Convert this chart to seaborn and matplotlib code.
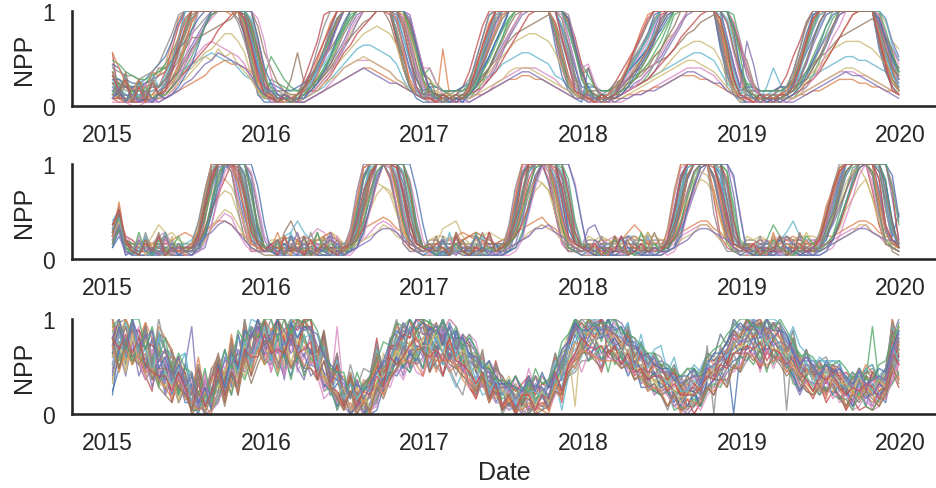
import matplotlib
matplotlib.use("Agg")
import matplotlib.pyplot as plt
import pandas as pd
import seaborn as sns

# Normalised NPP per pixel, half-monthly steps, one string of 24 levels per year.
# Level letters: a = 0.00, b = 0.04, ... z = 1.00 (spaces only group the seasons).
YEARS = [2015, 2016, 2017, 2018, 2019]
STEPS_PER_YEAR = 24
LEVELS = "abcdefghijklmnopqrstuvwxyz"
YEAR_TICKS = [2015, 2016, 2017, 2018, 2019, 2020]

# ---- panel 1: broad summer plateau -------------------------------------
p1_2015 = [
    "fdcbcbcd glsz zzzzzzzz wpjd", "jgfeffgi lrxz zzzzzzzz uojf",
    "ecbbbbcc dfjp uzzzzzzz zuld", "ocdcbccd ehlr wzzzzzzz xqke",
    "dcbbcbbc ehkn qtwzzzzz yrkf", "hgfdeghk kmpt xzzzzzzx tnhe",
    "cbbaabbb cdgj moqrqpon lhed", "ggeeddef hknq tvxzzzzz vphd",
    "dccbcccd fiks zzzzzzzz zzqg", "ffdcddee ghjk lmnonmmk ihfd",
    "lkhgghjl nrwz zzzzzzzz sldb", "cbbbbbcc cdef ghiklmll kjhe",
    "ihgfggij losw zzzzzzzz zuoi", "eddccddf jpvz zzzzzzzz tkec",
    "dddccbcc dfhl psvyzzzz zwpg", "gffeeeff hjmp sstuvwxz ytlf",
    "bbbbbbbc dfin szzzzzzz zwqh", "kjiihijl ptyz zzzzzzzw rlfc",
    "ccccccde fgij kmoprttr oiec", "eeddeeff hlrx zzzzzzzz zxrk",
    "hhfffghi jmpr uxzzzzzz zsle", "dcbcccdd egkq wzzzzzzz zzsj",
    "mljihhij kmou zzzzzzzz wnfc", "cccbbccd dfhj lnpruwyz zvpi",
    "egbfcgbe fkrx zzzzzzzz xrkf", "jcgbfbhd fhjm prvyzzzz zzvo",
    "cfbdbgbc cehl osvxzzzz zzxr", "lehcgbhf gjot xzzzzzzz uldc",
    "dgbcfbdc degh jlnmpnol jhec", "hdibgcjf imsz zzzzzzzz zsle",
    "cebfbcbd cdfi lqvzzzzz zzsk", "okgehdji jnsx zzzzzzyz vogd",
    "dgbecfcd dfhk nrvyzzzz zwoh", "iehbfbgd ejpv zzzzzzzz xqid",
    "cfbdbecb cdeg hjlmonml kifd", "gdjbhcgf hlqu yzzzzzzz ytnf",
]
p1_2016 = [
    "bbcbc ehjm qw zzzzzzzz wqkfd", "dcbcd fikn sx zzzzzzzz unhec",
    "cbbbc degj mq uyzzzzzz zzsld", "dcccd fhkn rv zzzzzzzy sngdc",
    "ddccc degi lo rvyzzzzz zxqjf", "dcdho ghkn ps vzzzzzzw qkfdc",
    "cbbbb bcde gi klmmmlkj hgedc", "ccbbc dfim rw zzzzzzzz zunhd",
    "cccdd efhi km qtwzzzzz zzupi", "eddcc cdef hj lnpqqpon lheec",
    "bbbbb cfjo uz zzzzzzzz skfcb", "ccbbb bcde fg hijkkjih gfedc",
    "nkhfe efhk nr vzzzzzzz zzwpi", "cbbcd hmry zz zzzzzzzz rkfdc",
    "cccbc cdfh jm pswzzzzz zzyrk", "eeedd efgi kn qsuwxzzz zxrlg",
    "bbbbc dgjm qv zzzzzzzz zxrkf", "fedcd fhkp vz zzzzzzzz uogdc",
    "dddcc defh jl nprtuvut qkgdc", "ccbbc egjl or uxzzzzzz zzvph",
    "gfeef gilo rv zzzzzzzz ysmhe", "cbccc dfin sw zzzzzzzz zytnh",
    "hgfee fhko sx zzzzzzzz tlfdc", "ccccc deeg il oqtvxzzz zzwqk",
    "ebdcb fhkn qv zzzzzzzz xqjed", "kgecd efhj lp twzzzzzz zzvpj",
    "idcbc cdfh jm quxzzzzz zzyrk", "cbcbd gjpv zz zzzzzzzz ulfdc",
    "dcbcb cdeg hi klmnmlkj hgedc", "ecdbc dgko tx zzzzzzzz zsmfd",
    "gdcbc cegj ns wzzzzzzz zzxqj", "dcbcd ehmr wz zzzzzzzz xpgdc",
    "fcdbc dfhk nr uxzzzzzz zzuoh", "cbdcb fjnr vz zzzzzzzz zvnfc",
    "ecdcb bcde fg hijkjihg gfedc", "dbcbd fhlp tx zzzzzzzz zwpid",
]
p1_2017 = [
    "ccbcbc eiou zzzzzzzzz wpiec", "cbpdbc fjpv zzzzzzzzz tmgdc",
    "fdccbc cegk oswzzzzzz zzxpj", "ccdccd fjnt yzzzzzzzz skfdc",
    "ecccdd efhk nqtwzzzzz zzsld", "bbbbcc eins xzzzzzzzz zunhe",
    "cbbbbb bcde ghijkkkji hfedc", "dccbcc dgkp uyzzzzzzz zuoie",
    "hfeddd efgi lpswzzzzz zzwqk", "dddcde fghi jlmnoonml ihfed",
    "bbbbbc gmsy zzzzzzzzz qiecb", "cbbbbc cdde fghhiihhg fedcc",
    "kgedcd dfik osxzzzzzz zzyrl", "ccccdf jpvz zzzzzzzzz vnhdc",
    "eddccc cdfh kosvyzzzz zzvph", "dddeee fgik mprtuvwxy wrlgd",
    "bbbbbc dhlq vzzzzzzzz zysle", "cccdef hlpu zzzzzzzzz tmgdc",
    "eeddcc dfhj lnprsttsr okgdc", "ccbbcc dgjn rvzzzzzzz zzuoi",
    "ffeeef ghkn ruzzzzzzz zvqkf", "cccccc ehlq uyzzzzzzz zzwqj",
    "gfeeee gjnr wzzzzzzzz uofdc", "ddcccc defh jmpsvyzzz zzxsl",
    "dbcbcb ehmr wzzzzzzzz zsmfd", "hdcbcd dfhk orvyzzzzz zzwpi",
    "kgdcbc cdfi lptwzzzzz zzyrk", "cbcbdc gmsy zzzzzzzzz tlfdc",
    "dcbcbc cdef ghjkkkjih gfedc", "ecbdbc eiot yzzzzzzzz zvpid",
    "fcdbcb dfjn rvzzzzzzz zzxqj", "cbcdbc fkqw zzzzzzzzz woiec",
    "ecdcbc dgjm quxzzzzzz zzuoh", "cbdcbc ekqv zzzzzzzzz zsled",
    "dcbcbc bcde fghijjihg fedcc", "edbcdc ehlp txzzzzzzz zxqic",
]
p1_2018 = [
    "bccd fhjlnp uz zzzzzzzz rkfc", "cbcc dfhjmp tx zzzzzzzz vohd",
    "fdcc cdefgi lp tyzzzzzz zzsk", "ccdd eghjkn ry zzzzzzzz unhd",
    "ddcc cdefgh jm psvzzzzz zwpi", "bbcc egjmps xz zzzzzzzz qjec",
    "cbbb bbcdde fg hijkkkji gedc", "cccd fhknps wz zzzzzzzz xpic",
    "edcc efghjl np stwzzzzz zzvo", "dddd eeffgh ij klmnoonm jgec",
    "kfcb dgjmpt yz zzzzzzzz pidb", "cbbb ccddee ff ghiiihhg fedc",
    "ifdc defhjl or vzzzzzzz zzyr", "cccd gjmpsw zz zzzzzzzz tlec",
    "eddc cdeghj ln qtwyzzzz zzvp", "eeee fghijk lm nprtuwxy vqkf",
    "bbbc dfilor vz zzzzzzzz zwoh", "ccde ghknqt wz zzzzzzzz sldc",
    "eddc cdefgh ij lnpqrrqp mheb", "ccbc dfhknq tw zzzzzzzz zxrk",
    "ffee fhjlnp su xzzzzzzz zsle", "cccc dfhkmp sv yzzzzzzz zzti",
    "gfee fhjmps wz zzzzzzzz xpgd", "dccc ddefgh jl npsuwyzz zzwq",
    "dbcb dfhjlo sx zzzzzzzz zslf", "kfdc cdfhik np svzzzzzz zzvp",
    "lgdc cdefhj lo rtwzzzzz zzwr", "cbcc ehkosw zz zzzzzzzz ufdc",
    "dcbc bcdefg hi jklmmlkj hfdc", "ecbc dgjmps wz zzzzzzzz yrjd",
    "fcdc cdfilo rv yzzzzzzz zzuk", "cbcd fhlpuy zz zzzzzzzz wmfc",
    "ecdc deghkn qt wzzzzzzz zzvn", "cbdc dgkptx zz zzzzzzzz xqhd",
    "dcbc bccdde ef ghijjihg gedc", "edbc cegjmp sw zzzzzzzz zwpj",
]
p1_2019 = [
    "bbcbcdd hnty zzzzzzzzz tnjg", "cbbbccd fkqw zzzzzzzzz wpkh",
    "gdcccbc cefi mqvzzzzzz xrmi", "cccccde hlrx zzzzzzzzz rlhf",
    "dccccdd efhk nquyzzzzz wrmj", "bbbbcdf jpvz zzzzzzzzz qkge",
    "cbbbbbb cdef ghijjjiih gfed", "cccdddd gkpu zzzzzzzzz vpkh",
    "jfdcccd efgi kmpsvyzzz zwrp", "ddddeee fghi jklmnnmml kjih",
    "bbbbbcc gmsy zzzzzzzzz pjfd", "cbbbbbc cdde efghhhggf feed",
    "kfdcccc dfil ptxzzzzzz xrmk", "ccccdfi nrwz zzzzzzzzz skfd",
    "ieddcdd egjm psvyzzzzz zxrn", "eeeeeff ghjl noqstuvwx vspm",
    "bbbbccd filr wzzzzzzzz wqlh", "cccddef inrw zzzzzzzzz uojf",
    "eddcccd efhj lnpqrrrqp nlji", "cccfkgd fimr vyzzzzzzz zxqm",
    "ffeeeff hkos wzzzzzzzz soje", "cccccdd fkpu yzzzzzzzz uoke",
    "gfeeeef hlqv zzzzzzzzz smhe", "kfdcccc degh jmpsvyzzz ytoj",
    "rldcbcd ehlq uyzzzzzzz wrlh", "mgdcbcd eghk nrvzzzzzz yrnk",
    "kfdcbcc cdfh kosvzzzzz ytpl", "cbcbcdf jpwz zzzzzzzzz qjfd",
    "dcbcbcc cdef ghijkkjih gfed", "ecbcdcd fjpu yzzzzzzzz uoif",
    "fcdbcbc dfim qvyzzzzzz xsnj", "cbcdcde hmsx zzzzzzzzz tmhe",
    "ecdcbcd egjn rvzzzzzzz zuoj", "cbdcbdd fkrx zzzzzzzzz sled",
    "dcbcbcb bcde fghijiihg fedc", "edbcdcd ehmr wzzzzzzzz vpki",
]

# ---- panel 2: short, sharp autumn peak ----------------------------------
p2_2015 = [
    "hmedcdcccdcc cgqzzzzsje dc", "gkfdcdeddcdd dfmvzzzwmf dc",
    "ilfedcdcbccc ccfmuzzzzr hd", "fidccdcdcccc dhszzzxpic cc",
    "jnfeedeeddde eglszzzzuk ed", "eidcbbcbbbbb bdkuzzzzsh cb",
    "gjedddeghedd cdfikmlhec cc", "hkeddcddcddd ehpxzzzytl fd",
    "fhedcdgjhdcc ceinqsrmgd cc", "kneddccdccdd cfozzzzzxo gd",
    "dgcbbbbbcbbb bcgpyzzzwm ec", "hjfeefeeefgh gfhjkkjhgf ed",
    "ghdccccdcccd dgozzzzzzt id", "elgfddddeedd dflvzzzyrj fd",
    "iledcccccccc ccdjrzzzzw nf", "fjeeddeffedd dhnuxzyuni ed",
    "glgeddcdddcd dgrzzzzqid cc", "hkedccdcdcdc ceiovzzzzw md",
    "fjfeeeefghfe ehmrvvtpje dd", "glfddddddeee fjszzzzxpg dc",
    "hmeddcccdddc cdhowzzzzu hd", "eifddeedcccc cfnyzzzvme dc",
    "jkfeecccdccd dgltzzzzsi ed", "gifdccddccdd deinrvzzzr jd",
    "gmdbfcbgcebd cfnwzzzvlf dc", "jlfdbgcdhcec dgnuzzzzsk ec",
    "ehbcgbdbfbcb bcejqxzzzx pg", "hoedbhcecfbd ekszzzxnfd cc",
    "fkccfbecbgcd cdfilnmjgd cc", "ildbcgbdhced dhqyzzzzvm fd",
    "dibcbfbcbdbc bdgmtyzzzz tj", "gpecbfdbgcdb eirzzzzune dc",
    "eidbhcbfcdgc cehpwzzzzr jd", "jnfcbecgbdcd dgowzzzxqh ec",
    "fjcbfcdbgcdc ceghjkjhfd cc", "hmecbfchcbec dhpxzzzzwn fd",
]
p2_2016 = [
    "cddcdccdcccd fmvzzzwoge dc", "ddecdefedccd ejrzzzzrjd cc",
    "cbcdcbccbcbc cehouzzzzs id", "dcdccddcdcdd hpyzzzvnfd cc",
    "eefgfedeefee ehkqwzzzwo gd", "bbhkgbbbbbcb dlvzzzztkd cb",
    "cdeeefgihfed defhjkjhfe dc", "cdcdcdcdcdcd gowzzzzwnf dc",
    "ddeeddccddde dfjnrtsojf dc", "efghkhfeeddd eiqzzzzzsj ed",
    "cbbbbbcbbbbb cgpxzzzzrh cb", "ddeffgfeedde fgijklkihf ed",
    "ccccdcccdcdd fnwzzzzzzq hd", "ddcdeedcdddd dfmuzzzyqh ed",
    "cccccccccccc cdjrzzzzzu kd", "efeddeeffgfe fimsxzyuke dd",
    "dcccdcdccccd hrzzzzyoec cc", "eddcdccdcccd ejpwzzzzxn fd",
    "ffgfeeffghge fimqutrmhe dd", "ddeddddeedde ejszzzzxof dc",
    "cdccdccccddc dhowzzzzuk ed", "dddcdeefghfd dgnxzzzvmf dc",
    "ccddcccdcdcc emvzzzzske dc", "ddcdcccdddcd dfinuzzzzs id",
    "cfbdhcbecgbc flwzzzzvlf dc", "ebgcfbdhcfbc dhnvzzzzrj ed",
    "dbcgbdbecbgb bdgnuzzzzv nf", "cfbecbhcfcbd iszzzzwnec cc",
    "dcgbdfbcgbdc defghjigfe dc", "ecbhcedbgcbd eiqyzzzzxo fd",
    "cbecbgbdcbeb cdhovzzzzz sj", "dhcbfcdbgcdc gpyzzzzrie dc",
    "cebgcdbhcedb dfkrxzzzzu jd", "ebgcdbfcecbd ekswzzzysk ed",
    "dcbgcecbdhcb cdefhiihfe dc", "cfbdcgbcecfc ejqxzzzzwm fd",
]
p2_2017 = [
    "cdcdcccddccd hpxzzzumfd cc", "ddccdeeddccd fkszzzzpic cc",
    "ccbcccbcbccc cdhpwzzzzr hd", "cdcdcddccdcd iqzzzzvmec cc",
    "eeffeeddeeef fhlrwzzzvn fd", "bbbbcbbbbbbb dmwzzzzsjd cb",
    "ddeeffghgfee defgijihfe dc", "cdcdccddcdcd hpxzzzzvme dc",
    "eeijkgedddde egkosusnhe dc", "ddeeddeeddde fjrzzzzzri ed",
    "cbbbcbbbbbbb chqyzzzzqg cb", "deefghgfeeef ghijkljigf ed",
    "cccddccccddd gowzzzzzyp gd", "dddceddccddd egnvzzzxpg ed",
    "cccdcccccccc cekszzzzzt jd", "ffeeefggfeee gjntyzxtjd dd",
    "cdccdcdcccdd isyzzzxnec cc", "ddccdcdccdcd fkqxzzzzwm ed",
    "fggffeefghgf gjnrvusmhe dd", "ddedeeddedde fkszzzzwne dc",
    "cdccdcccdccc eipxzzzzti ed", "ddcdefghgfed ehoyzzzule dc",
    "cddcccddcdcc fnwzzzzrjd cc", "dccdccddcddd egjovzzzzr hd",
    "dbfcebdgcebd gowzzzzumf dc", "cgbdcfbdhcec ejrzzzzzsk ed",
    "bdcgbdcbfbcb bcfmtyzzzz uk", "dcgbcfcebhcd jtzzzzynfc cc",
    "cdcgdbcfecdc defhijihfe dc", "edbhcdcbgcde fjrxzzzzxn fd",
    "cbcbgcbcdbeb cdgnuzzzzz tk", "ecdbhedcfdcd hqzzzzzskf dc",
    "dbfcecbhcdcd egmtyzzzzv ke", "cedbgcbdchcd flvzzzzytl ed",
    "dcfcbdcgdcbc defgiijhge dc", "ecdbhcdbcgce ekryzzzzwn fd",
]
p2_2018 = [
    "cddcdccdcdcc eluzzzzwof dc", "ddccdeedcccd dhpwzzzzsh dc",
    "cbccbccbcccc cdhnuzzzzx md", "dcdcdcdddcdc fnwzzzzqgd cc",
    "ijfeefeeeeff efimrwzzzt ie", "bbbbbbcbbbbb cjszzzzzug cb",
    "ddefgfeeffed deghijjhfe dc", "cdcddcdccdcd flvzzzzzqh dc",
    "edeeddeeeddd dgkpsvurke dc", "ddddefggfeed fkszzzzzxm ed",
    "cbbbbbbcbbbb cgpyzzzzwl db", "eeffeefgfeef ffhijkkihf ed",
    "cccdcdccdccd fnwzzzzzzu kd", "dddeddcddddd dgnvzzzzsk ed",
    "cccccccccccc cdjrxzzzzz re", "ffeeffgffeee fimsxzzwpi ed",
    "ddcccdcdccdc gqyzzzzzpf dc", "edddcdccdcdc eiowzzzzzt hd",
    "gfgfeeffgggf fhmqvxwsle dd", "dededdeedddd ejrzzzzzug dc",
    "cdcdccccdccc dhnvzzzzzq gd", "dcdcdfhjhecd egmwzzzzqh dc",
    "ccdccdcdcccc emvzzzzvne cc", "dcdcccdddccd dfjotyzzzv kd",
    "cfdbcgbcecdc fnwzzzzvng dc", "edcbgcfbdhec ejrzzzzzsj ed",
    "bdcbfbdcbgbc bcfmszzzzz vm", "dcgbcdcfbcdc iszzzzzmfc cc",
    "cdbcgdcbdhec cdfghjjhfe dc", "ecbdcfdbcgcd fkryzzzzxn fd",
    "cbdbcgdcbcbc cdgntyzzzz wl", "decbgcedcfcd hrzzzzzslf dc",
    "dcbcfdcbhcec dfkqwzzzzx of", "cebdcgbcecdc fmvzzzzytm ed",
    "dcecbcgecbdc cdefhiihgf dc", "ebdcgcbecdhd ejpwzzzzyp gd",
]
p2_2019 = [
    "cddcdccdcdc ehmsxzzzzqh ed", "ddcceffedcd fjowzzzzzri ed",
    "cbccbccbccc cdgmsyzzzzu kd", "dcdcdcdddcd glrxzzzzwne dc",
    "eefeefeeeef fgjnsxzzzzs hd", "bbbbbcbbbbb dintzzzzzvj cb",
    "ddeefgfeeff eefghiijhge dc", "cdcddcdccdc fkqwzzzzzsi ed",
    "edeeddeeedd deginqtvqje dc", "ddddefhkgfd efkrzzzzzzn fd",
    "cbbbbbbcbbb chnuzzzzzxp gm", "eeffeefgfee fgghijkkjhg fe",
    "cccfjgdcdcc dglrxzzzzzv id", "dddeddcddde gmtyzzzzsje dc",
    "ccccccccccc cdfjpvzzzzz qf", "ffeeffgffee fhkoswzzxpi fe",
    "ddcccdcdccd ekryzzzzuke dc", "edddcdccdcd dhmszzzzzyn fd",
    "gfgfeeffggg fhlpuxyvqke dd", "dededdeeddd dinvzzzzzri ed",
    "cdcdccccdcc dfkqwzzzzzu kd", "dcdcdeffedc fkrxzzzzxoe dc",
    "ccdccdcdccc glsyzzzzxmf dc", "dcdcccdddcc defjotyzzzz se",
    "cebfcbdcgcd fjpvzzzzzsi ed", "edbcgcdbhdc dgkrwzzzzxq ie",
    "bdcbfbdcbcb bcdglqwzzzz uk", "dcgbcdcfbcd hntzzzzzwme dc",
    "cdbcgdcbdhe cdefghjjhgf ed", "ecbdcgdbcdc dhmswzzzzyr he",
    "cbdbcfdcbcb bcfkpuyzzzz wl", "decbhcedcfc gosyzzzzzqh ed",
    "dcbcfdcbdge cegkpuzzzzz tj", "cebdcgbcecd flsxzzzzzvj fd",
    "dcecbcgecbd cdefghiihgf fe", "ebdcdgbecdc dimsxzzzzzs jd",
]

# ---- panel 3: noisy, winter-high signal ---------------------------------
p3_2015 = [
    "kwnz pvjsg mfn hbje lrhvpw rz", "xrun slqlh hpk adcg oitkvq xs",
    "wpzt sxnuj ohm kcgf glrmsr uw", "umqo pkgtm djl bfgc jeofsk vp",
    "uyqz oumsi rgn xdjb gpkvmx tz", "jpot njmhf dlh acbg jcmfoi nr",
    "zrxs xmuko ijf hclf pmrnux wz", "mtqy nskor mdh bjeh gknqou xu",
    "iwoq ukokh mej bgcj hmjqmu vq", "zvys rymwr kpq gmdk loqusz yx",
    "gmsp rmujn fkd dagb eikgrn uo", "ystw qynxu rlj fpfm phtjxn tw",
    "qmun rlqho mfk cbhc jfnktm xr", "szqy owlvr mhf dkcj nfrkxq zs",
    "lrkt kphnf jdh bdab dkfolp so", "zsxp sxnvu qnl fmfk qjumzo xv",
    "pvrs wlrio hmf jbkc lhpkup wr", "syzv qxnur pjk glfm ngujyq zt",
    "ntlu rmpih kdj cbeg hjgnkr tn", "qtsx qwmvr pki fick mkrowq sz",
    "fsqr smpjn hlf icgb fikmrq uq", "zuzv uyuop pkj gngj pjvmyr vz",
    "qoso snpil jgh bbfc dkfnjo rn", "uyrw wtsqm lph fmfk oirnpv ty",
    "swpz pvmon hlg hbjc flkroq xr", "pyrx pxmrq njh dkcg ogrmpv uz",
    "nxqv ojrmp gkg ecjb dimjpn ur", "rztz qxmzr qkj dngk pgsjzq zw",
    "pzlv nuksl hoh kcgb flpjsp qw", "nvpy prluk imq cdch lfplun sx",
    "qxqz urwmp jnh kdhb nhqmwu zs", "slrn qlmjh eje dbca ldjgpl rn",
    "xzrz zrxpu lqm lfmd jrmwtx uz", "urvq unlkk glh bicg mflirp pv",
    "uzsy suwor kpi lchf jonqpv xt", "umtp nqjmm lhf bgaf kdlhqk pt",
]
p3_2016 = [
    "sxpzruq plfi hbgad hoo rvpxs", "qytwpzt jrfo bghca nfr smqwv",
    "ovlxoun qghc fadbg imk ptmwq", "wzzsztr ltgn cidhh njr yuzrt",
    "psjunqk mhke cadab eil lrmsp", "tvqxrzw krfn djbhg ngl quswx",
    "lrnulpm kegx fcaeh fmj mrnsk", "ztswuyz mujp dkchh okt zrwux",
    "rxnyqun qkjd hacbf dqm rmtnu", "vywzzxu nvip flhik tjr vxwzz",
    "nspkrln mkie hacea bhl knlpm", "qxtwrzw rtlj kfjdi pht xuztu",
    "oupwnvo pigd hacfb fnk msnsr", "vzuywzz pujq ekfhk ujr twuzz",
    "rokumjq nhkd faccb dkj pkrnp", "quqypxx qskj dfeie nio vpxqs",
    "ltkrsko mgjb fbeab cjh mjono", "vzszxzu owkq fnhml sku vywzz",
    "sowntro pkif hbhcg fmm rntpu", "vxszuzz pvio eldhj rjp swvxz",
    "qmrmpmr oigc gbeac gjm pmqos", "wyuzxyz pthm fleji nlo rvuxy",
    "pkrjqkp mjhb gbdab ejk onlqm", "rztyrzz pvin ekdgj phs svuzy",
    "uqtqspv pljf hbeag hkm nsqsr", "qzwyzxx qwmk dkeij qln txvzz",
    "nslonsn oiid fbdaa fhj mlplk", "tzzvywx oukl eieik smp twvzz",
    "rswnurp qjif hbegb jkm rosrs", "ovpzquv msfk eiehg lhn usxqr",
    "uzpyuxw vpnl jfigi lot wuzwy", "slsmqnm jkgf bdaea ifk moonk",
    "zuzvzyz wqml lelgk ots yxzwz", "qrqvqrt johg cgcgf khp npsuq",
    "vvwtxwx sqkj iejeh lnr ryvzv", "tnrmqmm johe bgadb hej mpnrr",
]
p3_2017 = [
    "uqwoulq lhjd gcfcidfb klp vq", "wpvrqkj ekdj bfadcegb lgn ou",
    "wtuxpuk nkij hjecjdii kos xt", "lrktmnh ejek beadbdgb kdn pr",
    "xvwvtsn qjmf hibhbigd jpr xu", "qsntorm glfk chbfadce khk pr",
    "vwyuuqo pkki ifkfhkfj mnt zv", "rnkpkqk fkdh bdafbcbe jfn ps",
    "yxwzxqs rkni hkgekfki lqv zs", "smolhll jfgd dbcaacbe jbk mp",
    "vrxpwqp okgj fjcfhdgh inr yt", "upuonom ilhe hefdgbfd hgp ts",
    "zuyuurq qkoi jihejhkh jqs zy", "lqkqmph fkdi beadfcdd gfn oq",
    "xtzrvst qklh igidhkeh ijs yv", "ntqumqn hlfn cgbfhdfb jgn qt",
    "wyvzxtv tmol kfkfmgki jrt zx", "pmomifm fidh addbadcc gfk lo",
    "swqxrtn qinh hdiehdgf hnr cw", "mrnsmpm hlfj cfdagdgd jhp rt",
    "xvzuwsu rmmi ihkgjhhe nmu zw", "rlqlnjh gkeg cdbffcba geo mq",
    "uqtotnq ojkh efhdjeff hns ws", "xwurqus mpho iigikfih pjs wy",
    "tpvoslo mhkf gcfbecfc gkm tq", "uysxrvt lrgm khehfkij qkt xz",
    "prpmonh khhd dbeacbdb fgl ql", "yxxuuss mqhn jhfggkgi qlu wz",
    "swqtorl mkig gdfbfcgd hln tq", "quqxpuo jogj fhdhggej ojs tw",
    "wxsyuuq pmok iihgkglh mrt yw", "rooonlj hjdg cebbdadb ifm or",
    "yvzuxrv rnmj jhkhgmij mtv zw", "prouonl ilei cfbffbfe lgn qu",
    "vwtxrvp pmlh hhegjhhf kot xu", "loqnmki gkeg bdbeeabc gfl nq",
]
p3_2018 = [
    "uxvzs tqmpilg hdicgc jmkpaq", "zxzus pvmqhnj fggbdc hjmnqr",
    "suovn qmnikgj jgfjcj lkpnsr", "zyzxu rwntjqm klfghk lnorvu",
    "qrmvt pmllkfh gecacf hjlnmq", "xvvxr ruqlnkn ikhghf mmpqsv",
    "rsmpo olmijfh fcbaad gjjlmp", "zwzwx rxptnnj imghmf sasnzw",
    "twvxp smplijg jfegfh kmnoss", "zzzwx uypvnqm jngknl poqtwv",
    "osoro pknhhgf gcecfc hjjmop", "zuxvr qtmrkok gkfigh klpqsv",
    "vxtzv xssoqkn mjhkig nmqqwu", "rplrq npkmhhf cgbead hfjjmm",
    "yxzvz yvuqpno nkkgmj ooqtyw", "vsxtp nrmnkji hjeggi ljrntp",
    "wzwuy vssoqll lhjfki mmqrtx", "oqoqq mojkgif bgcffe ihmiql",
    "vuxtv tqqmoil kgifhh lmorsv", "xzwzz vyrtors lpijkm qpvszw",
    "ruqsu rnomjlh ifcggc jllpqr", "wxyvv sumqnpk jmhkik pnrqwt",
    "opsls pmmjigf gbcbec gihlmp", "wuzqs qvnqlnm jlhfig mkrnus",
    "tuuvr rpnmllj igdghf kknqrt", "zxywv twpspnn jmhjkk qoqtwu",
    "qpqpo omlkhhg fcdbdb fhilln", "xywzz vxrsnqp knjmkl qpvszx",
    "surtq rpmmkjj hgdgfh jllmqs", "wvxts qumsmpk ikggjh nmrptt",
    "wyuzw xttpqnm mjkkmi nqqtwy", "qpooo mnjkghg cfaedd hgjhnm",
    "zxyyz wvusqqn nlkmmk prsvxz", "srsps nqlmjkk gifffh kjnmqq",
    "uxwxv usspnpl ljijkh mnorvt", "qomro mnjlhif cfbcce hfkhnl",
]
p3_2019 = [
    "uzqxps qlgl kmfki hdjcifd mt", "zxyuuq mrli gjelk bgifdgi xj",
    "svovnr pkgk mhlkg igfkgej nu", "zyzwyu qtpl loink ljmgkhj wp",
    "qrmvpq ojfj ifjhe fcegcgf jq", "xvxwvs osnk nmnji iiekhji uo",
    "rtlrop mjgj igfid ebcfbcg in", "zwywxy bunq mopll jljmnij zs",
    "txsvpt rmjn lljkh jgjhgkj qw", "zzyvyw swmq mpnon ikhmjkm xt",
    "osntpo nkgj iigje gchegfh lr", "zuwuvq qsmm lljki fijlkii px",
    "vxsztx usqn mknlj kgmjxil ry", "spmqpp mojh eidgf bebcbee lh",
    "yyztyy vroo omnln jikhljm uz", "vsxsso nqmj gkgki fhgkjgh sn",
    "wzvwwx uqnn nkmhk jhmfjhk qw", "oqorpo lnkg fihhf cfghfdh pk",
    "vuxtvu spjm kgljh igkggki ou", "xzwzzy txsq ooooo hljmnjj xv",
    "rurrtr qojm kgjfi gdjffig mr", "wxzvwu qtom jmjnm hjjnlgi zs",
    "pnrlrp oihk hfhfe ebgcbef il", "xuyquw rtnl klimk hikgljj tp",
    "tuuvst sqkn lhkkg hfjgfih ou", "zxyvyw rumr knlmj gkjllik wr",
    "qqnrmq omhj igjeg fdhdcfe jo", "xywzxy qwnr molnm jlilmjm yt",
    "srrtrr qnkl kgmgi ifkfgjh mr", "wvxsvs mtlo illki hikigki so",
    "wyuzww vqnp nkolm kilijml rw", "qpnnop lnkh fifjh cgeifcg mj",
    "zxxzwz wtpq pmnno mjmjjno ux", "srtorq nplj gkjlh fhgiheh qn",
    "uxvzuw trnp mjnkm jhmhjkj qv", "qormpn kmig fhgie cfdgecf ni",
]

PANELS = [
    [p1_2015, p1_2016, p1_2017, p1_2018, p1_2019],
    [p2_2015, p2_2016, p2_2017, p2_2018, p2_2019],
    [p3_2015, p3_2016, p3_2017, p3_2018, p3_2019],
]


def decode(chunk):
    return [LEVELS.index(c) / (len(LEVELS) - 1) for c in chunk.replace(" ", "")]


def panel_frame(year_lists):
    rows = []
    for year, chunks in zip(YEARS, year_lists):
        for pixel, chunk in enumerate(chunks):
            for k, value in enumerate(decode(chunk)):
                rows.append((f"px{pixel:02d}", year + (k + 0.75) / STEPS_PER_YEAR, value))
    return pd.DataFrame(rows, columns=["pixel", "Date", "NPP"])


sns.set_theme(style="white", context="talk")
plt.rcParams["font.family"] = ["Liberation Sans", "DejaVu Sans"]

fig = plt.figure(figsize=(9.37, 4.89), dpi=100)
boxes = [
    (0.0768, 0.7812, 0.9222, 0.1943),
    (0.0768, 0.4683, 0.9222, 0.1943),
    (0.0768, 0.1513, 0.9222, 0.1943),
]

for i, (box, year_lists) in enumerate(zip(boxes, PANELS)):
    ax = fig.add_axes(box)
    df = panel_frame(year_lists)
    n_pixels = df["pixel"].nunique()
    sns.lineplot(
        data=df, x="Date", y="NPP", hue="pixel",
        palette=sns.color_palette("deep", n_pixels),
        estimator=None, errorbar=None, legend=False,
        linewidth=1.0, alpha=0.8, ax=ax,
    )
    ax.set_xlim(2014.776, 2020.224)
    ax.set_ylim(0, 1)
    ax.set_xticks(YEAR_TICKS)
    ax.set_xticklabels([str(y) for y in YEAR_TICKS])
    ax.set_yticks([0, 1])
    ax.set_yticklabels(["0", "1"])
    ax.set_ylabel("NPP")
    ax.set_xlabel("Date" if i == len(PANELS) - 1 else "")
    sns.despine(ax=ax)

fig.savefig("out.png", dpi=100)
